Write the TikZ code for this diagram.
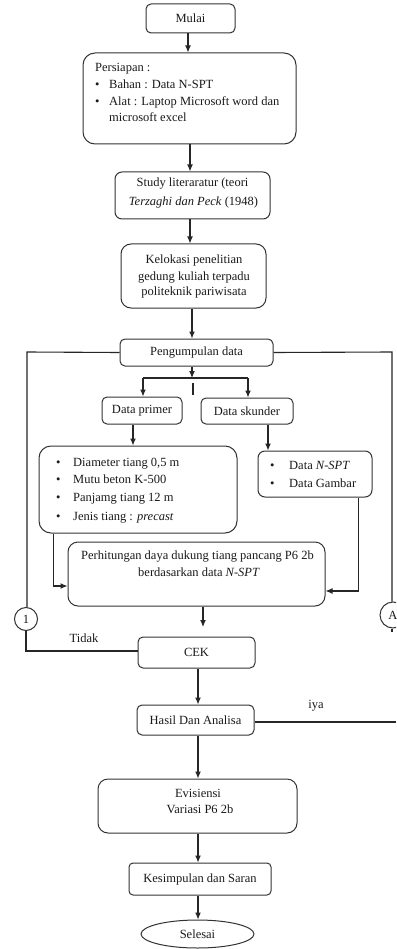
\documentclass[tikz,border=0pt]{standalone}
\usepackage{fontspec}
\setmainfont{Liberation Serif}
\usetikzlibrary{arrows.meta,shapes.geometric}
\newcommand{\fsz}{\fontsize{12.5}{15}\selectfont}
\begin{document}
\begin{tikzpicture}[x=1pt,y=-1pt,
  box/.style={draw=black!80, line width=1pt, rounded corners=#1, inner sep=0pt, font=\fsz, text=black!90},
  box/.default=5pt,
  txt/.style={inner sep=0pt, font=\fsz, text=black!90},
  ln/.style={draw=black!85, line width=1.1pt},
  arr/.style={draw=black!85, line width=1.1pt, -{Latex[length=7pt,width=6pt]}},
  conn/.style={circle, draw=black!80, line width=1pt, inner sep=0pt, font=\fsz, text=black!90}]
\useasboundingbox (0,0) rectangle (396,949);
\fill[white] (0,0) rectangle (396,949);
\clip (0,0) rectangle (396,949);

% boxes
\node[box] (mulai) at (190.5,18.5) [minimum width=89pt, minimum height=29pt] {Mulai};
\node[box=12pt] (persiapan) at (189.5,98.5) [minimum width=213pt, minimum height=91pt] {};
\node[box=7pt] (study) at (192.5,195.5) [minimum width=155pt, minimum height=47pt] {};
\node[box=10pt] (kelokasi) at (193.5,276) [minimum width=145pt, minimum height=64pt] {};
\node[box] (kumpul) at (196.5,352.5) [minimum width=153pt, minimum height=27pt] {Pengumpulan data};
\node[box] (dprimer) at (142,410.5) [minimum width=80pt, minimum height=27pt] {Data primer};
\node[box] (dskunder) at (247,411) [minimum width=92pt, minimum height=26pt] {Data skunder};
\node[box=12pt] (b1) at (138,489.5) [minimum width=198pt, minimum height=87pt] {};
\node[box=7pt] (b2) at (315,474) [minimum width=114pt, minimum height=46pt] {};
\node[box=10pt] (perh) at (196.5,574) [minimum width=257pt, minimum height=64pt] {};
\node[box] (cek) at (196.5,652.5) [minimum width=117pt, minimum height=31pt] {CEK};
\node[box] (hasil) at (195.5,720) [minimum width=117pt, minimum height=30pt] {Hasil Dan Analisa};
\node[box=10pt] (evis) at (197.5,806) [minimum width=199pt, minimum height=54pt] {};
\node[box=4pt] (kesim) at (200,879) [minimum width=142pt, minimum height=32pt] {Kesimpulan dan Saran};
\node[ellipse, draw=black!80, line width=1pt, inner sep=0pt, font=\fsz, text=black!90,
      minimum width=113pt, minimum height=28pt] (selesai) at (197.5,934) {Selesai};
\node[conn, minimum size=23pt] (c1) at (26,619) {1};
\node[conn, minimum size=26pt] (cA) at (393,615) {A};

% texts
\node[txt, anchor=base west] (tp0) at (95,72) {Persiapan :};
\node[txt, anchor=base west] (tp1b) at (95,89) {•};
\node[txt, anchor=base west] (tp1) at (109,89) {Bahan : Data N-SPT};
\node[txt, anchor=base west] (tp2b) at (95,106) {•};
\node[txt, anchor=base west] (tp2) at (109,106) {Alat : Laptop Microsoft word dan};
\node[txt, anchor=base west] (tp3) at (109,122) {microsoft excel};

\node[txt, anchor=base] (ts1) at (192.5,187) {Study literaratur (teori};
\node[txt, anchor=base] (ts2) at (193.5,206) {\textit{Terzaghi dan Peck} (1948)};

\node[txt, anchor=base] (tk1) at (194,264) {Kelokasi penelitian};
\node[txt, anchor=base] (tk2) at (194,280) {gedung kuliah terpadu};
\node[txt, anchor=base] (tk3) at (194,295) {politeknik pariwisata};

\node[txt, anchor=base west] (tb1a) at (56,466) {•};
\node[txt, anchor=base west] (tb1) at (73,466) {Diameter tiang 0,5 m};
\node[txt, anchor=base west] (tb2a) at (56,483) {•};
\node[txt, anchor=base west] (tb2) at (73,483) {Mutu beton K-500};
\node[txt, anchor=base west] (tb3a) at (56,501) {•};
\node[txt, anchor=base west] (tb3) at (73,501) {Panjamg tiang 12 m};
\node[txt, anchor=base west] (tb4a) at (56,520) {•};
\node[txt, anchor=base west] (tb4) at (73,520) {Jenis tiang : \textit{precast}};

\node[txt, anchor=base west] (tc1a) at (270,469) {•};
\node[txt, anchor=base west] (tc1) at (289,469) {Data \textit{N-SPT}};
\node[txt, anchor=base west] (tc2a) at (270,487) {•};
\node[txt, anchor=base west] (tc2) at (289,487) {Data Gambar};

\node[txt, anchor=base] (th1) at (197.5,559) {Perhitungan daya dukung tiang pancang P6 2b};
\node[txt, anchor=base] (th2) at (199,576) {berdasarkan data \textit{N-SPT}};

\node[txt, anchor=base] (te1) at (198,797) {Evisiensi};
\node[txt, anchor=base] (te2) at (200,813) {Variasi P6 2b};

\node[txt, anchor=base] (ttidak) at (84,642) {Tidak};
\node[txt, anchor=base] (tiya) at (316,708) {iya};

% helper coordinates
\coordinate (J) at (192,378);
\coordinate (JL) at (143,378);
\coordinate (JR) at (248,378);
\coordinate (S1) at (193,383);
\coordinate (S2) at (193,395);
\coordinate (LX) at (27,352);
\coordinate (RX) at (392,352);
\coordinate (ceklow) at (203,627);
\coordinate (iyaend) at (396,722);
\coordinate (Astub) at (392,632);

% main flow
\draw[arr] ([xshift=-2.5pt]mulai.south) -- ([xshift=-2.5pt]mulai.south |- persiapan.north);
\draw[arr] ([xshift=0.5pt]persiapan.south) -- ([xshift=0.5pt]persiapan.south |- study.north);
\draw[arr] ([xshift=-2.5pt]study.south) -- ([xshift=-2.5pt]study.south |- kelokasi.north);
\draw[arr] ([xshift=-1.5pt]kelokasi.south) -- ([xshift=-1.5pt]kelokasi.south |- kumpul.north);
\draw[arr] (kumpul.south -| J) -- (J);
\draw[ln] (JL) -- (JR);
\draw[arr] (JL) -- (JL |- dprimer.north);
\draw[arr] (JR) -- (JR |- dskunder.north);
\draw[ln] (S1) -- (S2);
\draw[arr] ([xshift=-9pt]dprimer.south) -- ([xshift=-9pt]dprimer.south |- b1.north);
\draw[arr] ([xshift=21pt]dskunder.south) -- ([xshift=21pt]dskunder.south |- b2.north);
\draw[arr] ([xshift=15pt]b1.south west) |- ([yshift=-12pt]perh.west);
\draw[arr] ([xshift=-14pt]b2.south east) |- ([yshift=-17pt]perh.east);
\draw[arr] (perh.south -| ceklow) -- (ceklow);
\draw[arr] ([xshift=1.5pt]cek.south) -- ([xshift=1.5pt]cek.south |- hasil.north);
\draw[arr] ([xshift=2.5pt]hasil.south) -- ([xshift=2.5pt]hasil.south |- evis.north);
\draw[arr] ([xshift=0.5pt]evis.south) -- ([xshift=0.5pt]evis.south |- kesim.north);
\draw[arr] ([xshift=-2pt]kesim.south) -- ([xshift=-2pt]kesim.south |- selesai.north);

% side loops
\draw[ln] (kumpul.west) -- (LX) -- (LX |- c1.north);
\draw[ln] (c1.south) |- ([yshift=1.5pt]cek.west);
\draw[ln] (kumpul.east) -- (RX) -- (RX |- cA.north);
\draw[ln] (RX |- cA.south) -- (Astub);
\draw[ln] ([yshift=-2pt]hasil.east) -- ([yshift=-2pt]hasil.east -| iyaend);
\end{tikzpicture}
\end{document}
